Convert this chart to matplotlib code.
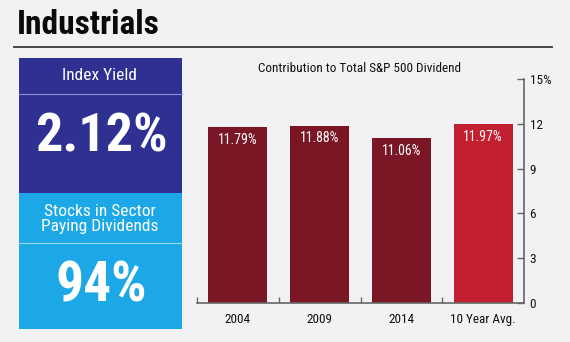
import matplotlib.pyplot as plt
from matplotlib.patches import Rectangle
from matplotlib.lines import Line2D

categories = ['2004', '2009', '2014', '10 Year Avg.']
contribution = [11.79, 11.88, 11.06, 11.97]
bar_colors = ['#7b1624', '#7b1624', '#7b1624', '#c21f30']
y_ticks = [0, 3, 6, 9, 12, 15]
y_tick_labels = ['0', '3', '6', '9', '12', '15%']

sector = 'Industrials'
index_yield = '2.12%'
paying_share = '94%'

W, H = 570, 342
bg = '#f2f2f4'
narrow = ['Roboto Condensed', 'Archivo Narrow', 'DejaVu Sans']


def fx(px):
    return px / W


def fy(py):
    return 1 - py / H


fig = plt.figure(figsize=(W / 100, H / 100), dpi=100, facecolor=bg)

# header
fig.text(fx(17), fy(25), sector, fontsize=24, fontweight='bold', family=narrow,
         color='#0a0a0a', va='center', ha='left')
fig.add_artist(Line2D([fx(14), fx(552)], [fy(47), fy(47)], color='#3a3a3a', lw=1.3))

# left info panel
fig.add_artist(Rectangle((fx(19), fy(193)), fx(182) - fx(19), fy(58) - fy(193),
                         transform=fig.transFigure, color='#2e3192', lw=0))
fig.add_artist(Rectangle((fx(19), fy(329)), fx(182) - fx(19), fy(193) - fy(329),
                         transform=fig.transFigure, color='#1ca8e6', lw=0))
fig.add_artist(Line2D([fx(19), fx(182)], [fy(94), fy(94)], color='#8b8dcc', lw=0.8))
fig.add_artist(Line2D([fx(19), fx(182)], [fy(243), fy(243)], color='#9bd8f4', lw=0.8))

fig.text(fx(100), fy(76), 'Index Yield', fontsize=12.5, family=narrow, color='white',
         ha='center', va='center')
fig.text(fx(101), fy(137), index_yield, fontsize=39, fontweight='bold', family=narrow,
         color='white', ha='center', va='center')
fig.text(fx(100), fy(219), 'Stocks in Sector\nPaying Dividends', fontsize=12.5, family=narrow,
         color='white', ha='center', va='center', linespacing=1.0)
fig.text(fx(101), fy(287), paying_share, fontsize=40, fontweight='bold', family=narrow,
         color='white', ha='center', va='center')

# bar chart
ax = fig.add_axes([fx(197), fy(303), fx(524) - fx(197), fy(79) - fy(303)])
ax.set_facecolor(bg)
xs = range(len(categories))
ax.bar(xs, contribution, width=0.72, color=bar_colors)
for x, v in zip(xs, contribution):
    ax.text(x, v - 0.85, '%.2f%%' % v, color='white', fontsize=10, family=narrow,
            ha='center', va='center')

ax.set_xlim(-0.5, len(categories) - 0.5)
ax.set_ylim(0, 15)
ax.set_xticks(list(xs))
ax.set_xticklabels(categories, fontsize=9.5, family=narrow, color='#111111')
ax.set_xticks([-0.5, 0.5, 1.5, 2.5], minor=True)
ax.tick_params(axis='x', which='major', length=0, pad=7)
ax.tick_params(axis='x', which='minor', length=4, direction='in', color='#666666', width=1)

ax.yaxis.tick_right()
ax.set_yticks(y_ticks)
ax.set_yticklabels(y_tick_labels, fontsize=9.5, family=narrow, color='#111111')
ax.tick_params(axis='y', length=5, direction='in', color='#666666', width=1, pad=4)

for side in ['top', 'left']:
    ax.spines[side].set_visible(False)
for side in ['right', 'bottom']:
    ax.spines[side].set_color('#666666')
    ax.spines[side].set_linewidth(1.2)

fig.text(fx(360), fy(68), 'Contribution to Total S&P 500 Dividend', fontsize=9.5,
         family=narrow, color='#111111', ha='center', va='center')

fig.savefig('out.png', dpi=100, facecolor=bg)
